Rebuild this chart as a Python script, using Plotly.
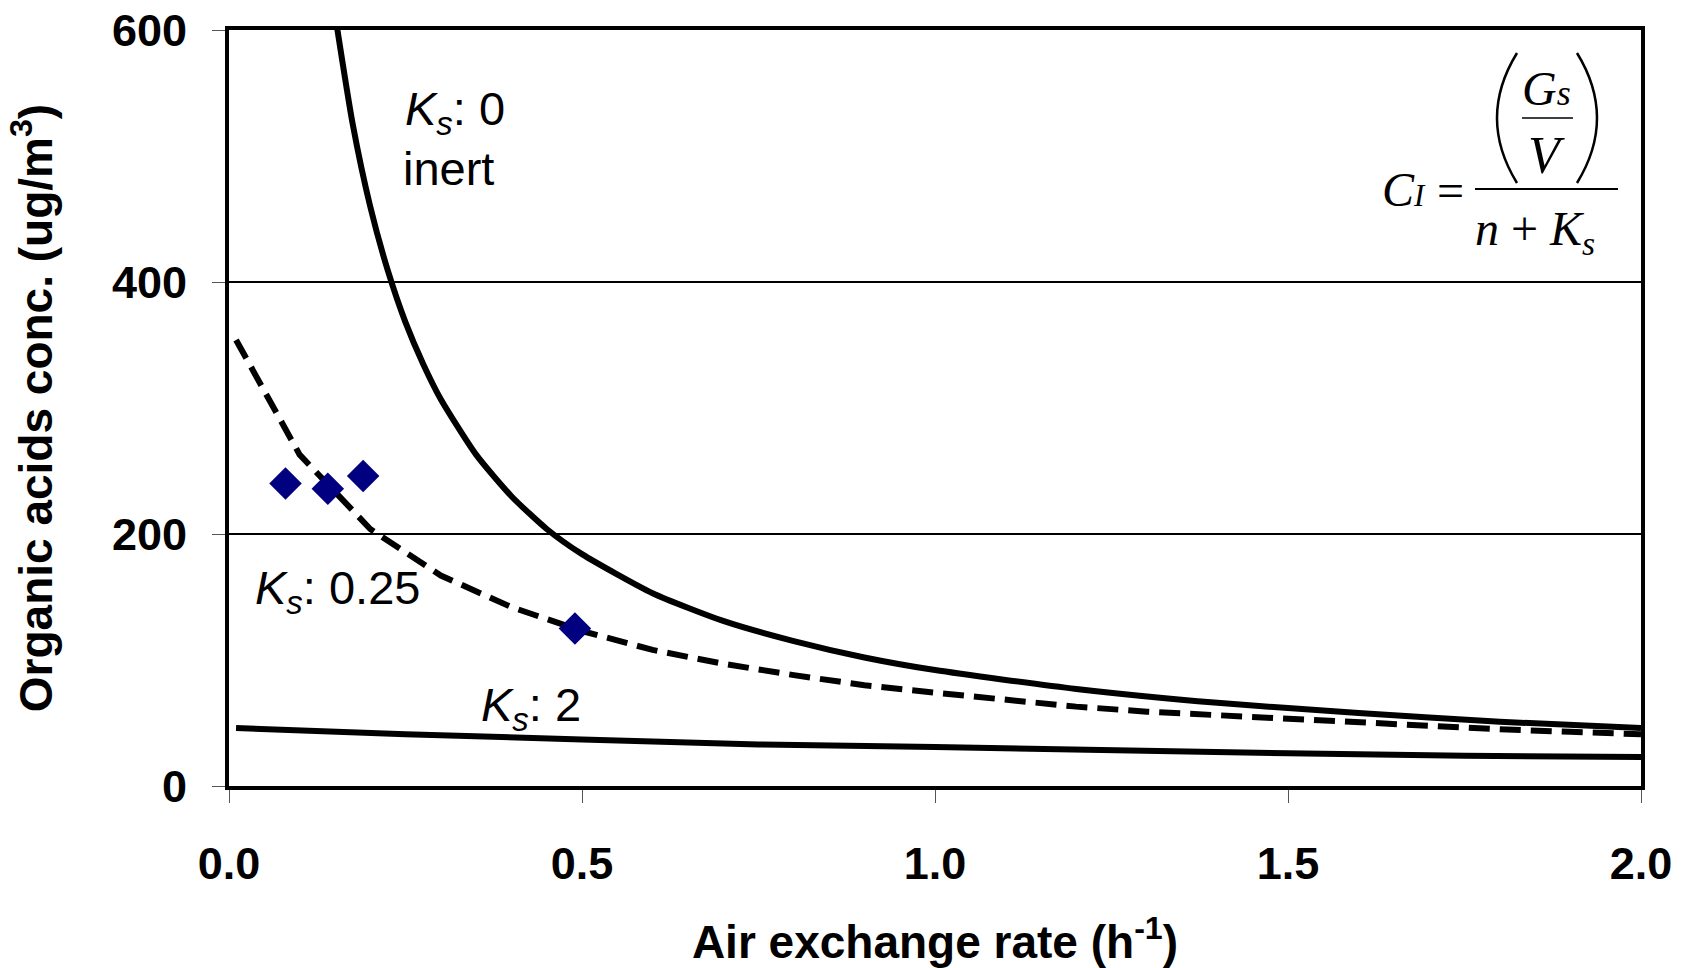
import plotly.graph_objects as go

# ---- data ----
air_exchange_k0 = [0.15, 0.175, 0.20, 0.225, 0.25, 0.275, 0.30, 0.35, 0.40, 0.45, 0.50,
                   0.60, 0.70, 0.80, 0.90, 1.00, 1.20, 1.40, 1.60, 1.80, 2.00]
conc_k0 = [613, 526, 460, 409, 368, 335, 307, 263, 230, 204, 184,
           153, 131, 115, 102, 92, 77, 66, 58, 51, 46]

air_exchange_k025 = [0.01, 0.1, 0.2, 0.3, 0.4, 0.5, 0.6, 0.7, 0.8, 0.9, 1.0,
                     1.1, 1.2, 1.3, 1.4, 1.5, 1.6, 1.7, 1.8, 1.9, 2.0]
conc_k025 = [354, 263, 204, 167, 142, 123, 108, 97, 88, 80, 74,
             68, 63, 59, 56, 53, 50, 47, 45, 43, 41]

air_exchange_k2 = [0.01, 0.25, 0.5, 0.75, 1.0, 1.25, 1.5, 1.75, 2.0]
conc_k2 = [46, 41, 37, 33, 31, 28, 26, 24, 23]

measured_x = [0.08, 0.14, 0.19, 0.49]
measured_y = [240, 236, 246, 125]

x_ticks = [0.0, 0.5, 1.0, 1.5, 2.0]
x_tick_labels = ["0.0", "0.5", "1.0", "1.5", "2.0"]
y_ticks = [0, 200, 400, 600]
y_tick_labels = ["0", "200", "400", "600"]

# ---- layout geometry (pixels) ----
W, H = 1690, 968
L, T, R, B = 229, 30, 1641, 786
PW, PH = R - L, B - T

SANS = "Liberation Sans, Arial, sans-serif"
SERIF = "Liberation Serif, Times New Roman, serif"


def px(x):
    return (x - L) / PW


def py(y):
    return (B - y) / PH


fig = go.Figure()
fig.add_trace(go.Scatter(x=air_exchange_k0, y=conc_k0, mode="lines",
                         line=dict(color="black", width=6, shape="spline", smoothing=0.6),
                         name="Ks: 0"))
fig.add_trace(go.Scatter(x=air_exchange_k025, y=conc_k025, mode="lines",
                         line=dict(color="black", width=6, dash="21px,10px"),
                         name="Ks: 0.25"))
fig.add_trace(go.Scatter(x=air_exchange_k2, y=conc_k2, mode="lines",
                         line=dict(color="black", width=6), name="Ks: 2"))
fig.add_trace(go.Scatter(x=measured_x, y=measured_y, mode="markers",
                         marker=dict(symbol="diamond", size=25, color="#000080",
                                     line=dict(width=0)),
                         name="measured"))

annotations = []


def txt(text, x, y, size, family=SANS, xanchor="left", yanchor="middle"):
    annotations.append(dict(text=text, x=px(x), y=py(y), xref="paper", yref="paper",
                            xanchor=xanchor, yanchor=yanchor, showarrow=False,
                            font=dict(size=size, family=family, color="black")))


# curve labels
txt("<i>K<sub>s</sub></i>: 0", 403, 112, 47)
txt("inert", 401, 168, 47)
txt("<i>K<sub>s</sub></i>: 0.25", 253, 591, 47)
txt("<i>K<sub>s</sub></i>: 2", 479, 708, 47)

# formula
txt("<i>C<span style='font-size:31px'>I</span></i>", 1380, 189, 48, SERIF)
txt("=", 1450, 191, 48, SERIF, xanchor="center")
txt("<i>G<span style='font-size:36px'>s</span></i>", 1546, 88, 48, SERIF, xanchor="center")
txt("<i>V</i>", 1546, 156, 52, SERIF, xanchor="center")
txt("<i>n</i> + <i>K</i><sub><i>s</i></sub>", 1535, 232, 48, SERIF, xanchor="center")

shapes = [
    dict(type="line", xref="paper", yref="paper", x0=px(1475), x1=px(1618),
         y0=py(189), y1=py(189), line=dict(color="black", width=2)),
    dict(type="line", xref="paper", yref="paper", x0=px(1522), x1=px(1573),
         y0=py(118), y1=py(118), line=dict(color="black", width=1.5)),
    dict(type="path", xref="paper", yref="paper",
         path=f"M{px(1517)},{py(53)} Q{px(1477)},{py(118)} {px(1517)},{py(183)}",
         line=dict(color="black", width=2.5)),
    dict(type="path", xref="paper", yref="paper",
         path=f"M{px(1577)},{py(53)} Q{px(1617)},{py(118)} {px(1577)},{py(183)}",
         line=dict(color="black", width=2.5)),
]

fig.update_layout(
    width=W, height=H,
    margin=dict(l=L, r=W - R, t=T, b=H - B, pad=0, autoexpand=False),
    paper_bgcolor="white", plot_bgcolor="white",
    showlegend=False,
    annotations=annotations,
    shapes=shapes,
    font=dict(family=SANS, color="black"),
)

fig.update_xaxes(
    range=[0, 2], tickvals=x_ticks, ticktext=x_tick_labels,
    showgrid=False, zeroline=False, automargin=False,
    showline=True, mirror=True, linecolor="black", linewidth=4,
    ticks="outside", ticklen=13, tickwidth=1, tickcolor="#555555",
    ticklabelstandoff=22,
    tickfont=dict(size=45, family=SANS, color="black", weight="bold"),
    title=dict(text="<b>Air exchange rate (h<sup>-1</sup>)</b>",
               font=dict(size=46, family=SANS, color="black"), standoff=48),
)
fig.update_yaxes(
    range=[0, 600], tickvals=y_ticks, ticktext=y_tick_labels,
    showgrid=True, gridcolor="black", gridwidth=1.5, zeroline=False, automargin=False,
    showline=True, mirror=True, linecolor="black", linewidth=4,
    ticks="outside", ticklen=13, tickwidth=1, tickcolor="#555555",
    ticklabelstandoff=16,
    tickfont=dict(size=45, family=SANS, color="black", weight="bold"),
    title=dict(text="<b>Organic acids conc. (ug/m<sup>3</sup>)</b>",
               font=dict(size=46, family=SANS, color="black"), standoff=46),
)

fig.write_html("out.html", config={"displayModeBar": False})

# remove the browser's default page margin so the figure sits at the window's corner
with open("out.html", "r", encoding="utf-8") as f:
    html = f.read()
html = html.replace("<head>", "<head><style>html,body{margin:0;padding:0;overflow:hidden}</style>", 1)
with open("out.html", "w", encoding="utf-8") as f:
    f.write(html)
